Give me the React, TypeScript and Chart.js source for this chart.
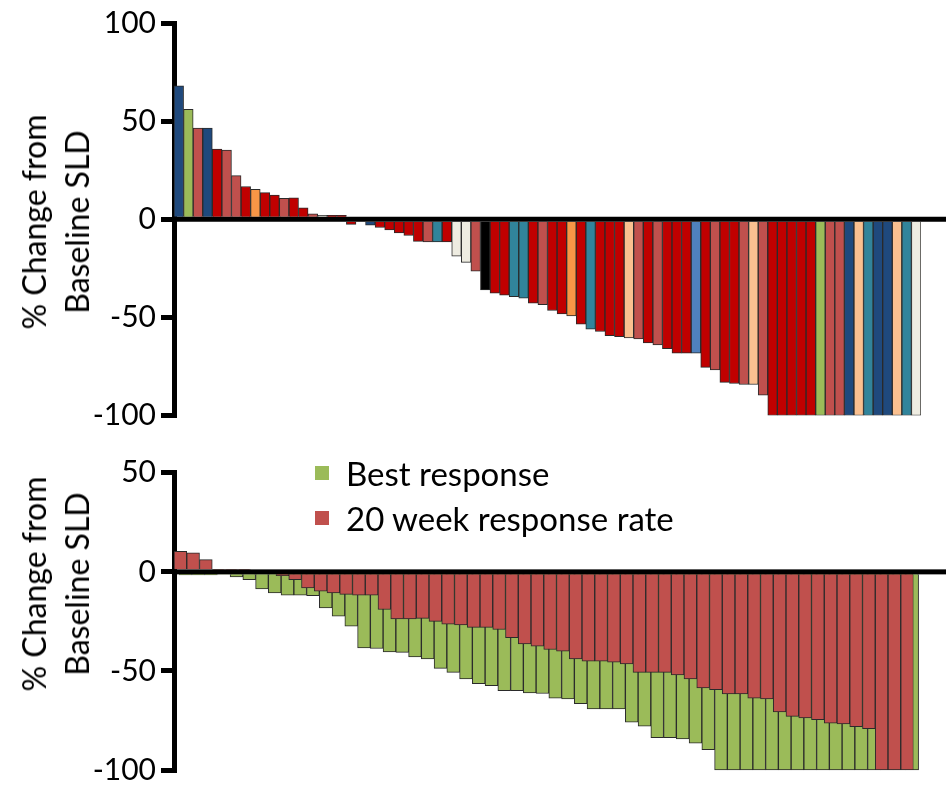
import React, { useEffect, useRef } from 'react';
import { Chart, registerables } from 'chart.js';

Chart.register(...registerables);

// ---------- Top panel: % change from baseline SLD per patient ----------
const topValues = [
  68, 56, 46.4, 46.4, 35.7, 35.2, 22.2, 16.7, 15.2, 13.6, 12.3, 10.6, 10.9, 5.8, 2.8, 2, 2, 2, -2.6, 0,
  -3, -4.2, -5.5, -7, -8.3, -11.3, -11.6, -11.6, -11.6, -18.8, -22, -26.5, -36, -37.7, -38.7, -39.5, -40.2,
  -42.8, -43.5, -46.5, -48.2, -49.2, -53.5, -56, -57.2, -59.3, -59.8, -60.5, -61, -63, -64, -66, -68.2,
  -68.2, -68.2, -75.5, -76.8, -83.1, -83.7, -84.2, -84.2, -89.7,
  -100, -100, -100, -100, -100, -100, -100, -100, -100, -100, -100, -100, -100, -100, -100, -100,
];

const topColorKeys = [
  'navy', 'green', 'salmon', 'navy', 'red', 'salmon', 'salmon', 'red', 'orange', 'red',
  'red', 'salmon', 'red', 'red', 'salmon', 'cream', 'red', 'red', 'red', 'red',
  'navy', 'red', 'red', 'red', 'red', 'red', 'salmon', 'teal', 'red', 'cream',
  'cream', 'salmon', 'black', 'red', 'red', 'teal', 'teal', 'red', 'salmon', 'red',
  'red', 'orange', 'red', 'teal', 'red', 'red', 'red', 'peach', 'salmon', 'red',
  'salmon', 'red', 'red', 'red', 'blue', 'red', 'salmon', 'red', 'red', 'salmon',
  'peach', 'salmon', 'red', 'red', 'red', 'red', 'red', 'green', 'salmon', 'salmon',
  'navy', 'peach', 'teal', 'navy', 'navy', 'peach', 'teal', 'cream',
];

const palette: Record<string, string> = {
  navy: '#1F497D',
  green: '#9BBB59',
  salmon: '#C0504D',
  red: '#C00000',
  orange: '#F79646',
  cream: '#EEECE1',
  teal: '#31849B',
  black: '#000000',
  peach: '#FAC090',
  blue: '#4F81BD',
};

// ---------- Bottom panel: best response vs 20 week response ----------
const bestResponse = [
  -1.5, -1.5, -1.5, -0.5, -2.5, -3.9, -8.6, -10.6, -11.8, -11.8, -12, -18.2, -22.4, -27.4, -38.4, -38.7,
  -40.4, -40.6, -42.9, -43.9, -48.7, -50.7, -54, -56.4, -57.4, -59.9, -60, -61.1, -61.4, -63.8, -64.1,
  -66.5, -69.2, -69.2, -69.2, -75.9, -77.9, -83.7, -83.7, -84.3, -86.4, -89.7,
  -100, -100, -100, -100, -100, -100, -100, -100, -100, -100, -100, -100, -100, -100, -100, -100,
];

const week20Response = [
  10.4, 9.6, 6.2, 1.2, 1.2, 1.2, 0, 0, -1.9, -3.9, -8.1, -9.8, -10.6, -11.4, -11.8, -11.8, -19, -23.7,
  -23.7, -23.5, -25, -26.4, -26.8, -28, -28, -29.1, -33.2, -36.4, -37.5, -39.2, -40, -43.9, -45.1, -45.1,
  -45.6, -46.5, -50.7, -50.7, -50.7, -52, -54, -58.6, -59.4, -61.6, -61.6, -63.8, -64.1, -70.7, -72.9,
  -73.7, -74.6, -76.4, -76.8, -78.1, -79.1, -100, -100, -100,
];

const topTickRange = { min: -100, max: 100, step: 50 };
const bottomTickRange = { min: -100, max: 50, step: 50 };

const seriesLabels = ['Best response', '20 week response rate'];
const axisTitleLines = ['% Change from', 'Baseline SLD'];

// the best-response series sits slightly to the right of the 20-week series
const GREEN_SHIFT = 0.4;

const FONT = 'Lato, "Open Sans", sans-serif';

const zeroLinePlugin = {
  id: 'zeroLine',
  afterDatasetsDraw(chart: any) {
    const { ctx, chartArea, scales } = chart;
    const y0 = scales.y.getPixelForValue(0);
    ctx.save();
    ctx.fillStyle = '#000';
    ctx.fillRect(chartArea.left, y0 - 2.5, chart.width - chartArea.left, 5);
    ctx.restore();
  },
};

function yScale(range: { min: number; max: number; step: number }) {
  return {
    min: range.min,
    max: range.max,
    z: 1,
    ticks: {
      stepSize: range.step,
      color: '#000',
      padding: 5,
      font: { family: FONT, size: 30 },
    },
    grid: {
      drawOnChartArea: false,
      drawTicks: true,
      tickLength: 13,
      tickWidth: 5,
      tickColor: '#000',
      lineWidth: 5,
      color: '#000',
    },
    border: { display: true, width: 5, color: '#000' },
    afterFit: (s: any) => {
      s.width = 174;
    },
  };
}

function TopChart() {
  const ref = useRef<HTMLCanvasElement>(null);
  useEffect(() => {
    if (!ref.current) return;
    const chart = new Chart(ref.current, {
      type: 'bar',
      data: {
        labels: topValues.map((_, i) => String(i + 1)),
        datasets: [
          {
            data: topValues,
            backgroundColor: topColorKeys.map((k) => palette[k]),
            borderColor: '#2a2a2a',
            borderWidth: 1,
            barPercentage: 1,
            categoryPercentage: 1,
          },
        ],
      },
      options: {
        animation: false,
        responsive: false,
        maintainAspectRatio: false,
        layout: { padding: { left: 0, right: 25, top: 12.5, bottom: 24.5 } },
        plugins: { legend: { display: false }, tooltip: { enabled: false } },
        scales: {
          x: { display: false },
          y: yScale(topTickRange) as any,
        },
      },
      plugins: [zeroLinePlugin],
    });
    return () => chart.destroy();
  }, []);
  return (
    <canvas
      ref={ref}
      width={946}
      height={440}
      style={{ position: 'absolute', left: 0, top: 0, width: 946, height: 440 }}
    />
  );
}

function BottomChart() {
  const ref = useRef<HTMLCanvasElement>(null);
  useEffect(() => {
    if (!ref.current) return;
    const n = week20Response.length;
    const xRange = { type: 'linear' as const, display: false, min: 0.5, max: n + 0.5, offset: false };
    const chart = new Chart(ref.current, {
      type: 'bar',
      data: {
        datasets: [
          {
            label: seriesLabels[1],
            data: week20Response.map((v, i) => ({ x: i + 1, y: v })),
            xAxisID: 'x',
            backgroundColor: '#C0504D',
            borderColor: '#2a2a2a',
            borderWidth: 1,
            barPercentage: 1,
            categoryPercentage: 1,
            grouped: false,
          },
          {
            label: seriesLabels[0],
            data: bestResponse.map((v, i) => ({ x: i + 1 + GREEN_SHIFT, y: v })),
            xAxisID: 'x2',
            backgroundColor: '#9BBB59',
            borderColor: '#2a2a2a',
            borderWidth: 1,
            barPercentage: 1,
            categoryPercentage: 1,
            grouped: false,
            clip: false,
          },
        ],
      },
      options: {
        animation: false,
        responsive: false,
        maintainAspectRatio: false,
        layout: { padding: { left: 0, right: 32.5, top: 32.8, bottom: 21.7 } },
        plugins: { legend: { display: false }, tooltip: { enabled: false } },
        scales: {
          x: { ...xRange, axis: 'x' },
          x2: { ...xRange, axis: 'x' },
          y: yScale(bottomTickRange) as any,
        },
      } as any,
      plugins: [zeroLinePlugin],
    });
    return () => chart.destroy();
  }, []);
  return (
    <canvas
      ref={ref}
      width={946}
      height={353}
      style={{ position: 'absolute', left: 0, top: 440, width: 946, height: 353 }}
    />
  );
}

function AxisTitle({ cx, cy }: { cx: number; cy: number }) {
  return (
    <div
      style={{
        position: 'absolute',
        left: cx,
        top: cy,
        transform: 'translate(-50%, -50%) rotate(-90deg)',
        whiteSpace: 'nowrap',
        textAlign: 'center',
        fontFamily: FONT,
        fontSize: 32,
        lineHeight: '43px',
        color: '#000',
      }}
    >
      {axisTitleLines[0]}
      <br />
      {axisTitleLines[1]}
    </div>
  );
}

function Legend() {
  const items = [
    { label: seriesLabels[0], color: '#9BBB59', top: 466 },
    { label: seriesLabels[1], color: '#C0504D', top: 511 },
  ];
  return (
    <>
      {items.map((it) => (
        <div key={it.label}>
          <div
            style={{
              position: 'absolute',
              left: 315,
              top: it.top,
              width: 14,
              height: 14,
              background: it.color,
            }}
          />
          <div
            style={{
              position: 'absolute',
              left: 346,
              top: it.top + 7,
              transform: 'translateY(-50%)',
              whiteSpace: 'nowrap',
              fontFamily: FONT,
              fontSize: 33,
              lineHeight: '38px',
              color: '#000',
            }}
          >
            {it.label}
          </div>
        </div>
      ))}
    </>
  );
}

export default function App() {
  return (
    <div
      style={{
        position: 'absolute',
        left: 0,
        top: 0,
        width: 946,
        height: 793,
        background: '#fff',
        overflow: 'hidden',
      }}
    >
      <TopChart />
      <BottomChart />
      <AxisTitle cx={55} cy={222} />
      <AxisTitle cx={55} cy={584} />
      <Legend />
    </div>
  );
}
